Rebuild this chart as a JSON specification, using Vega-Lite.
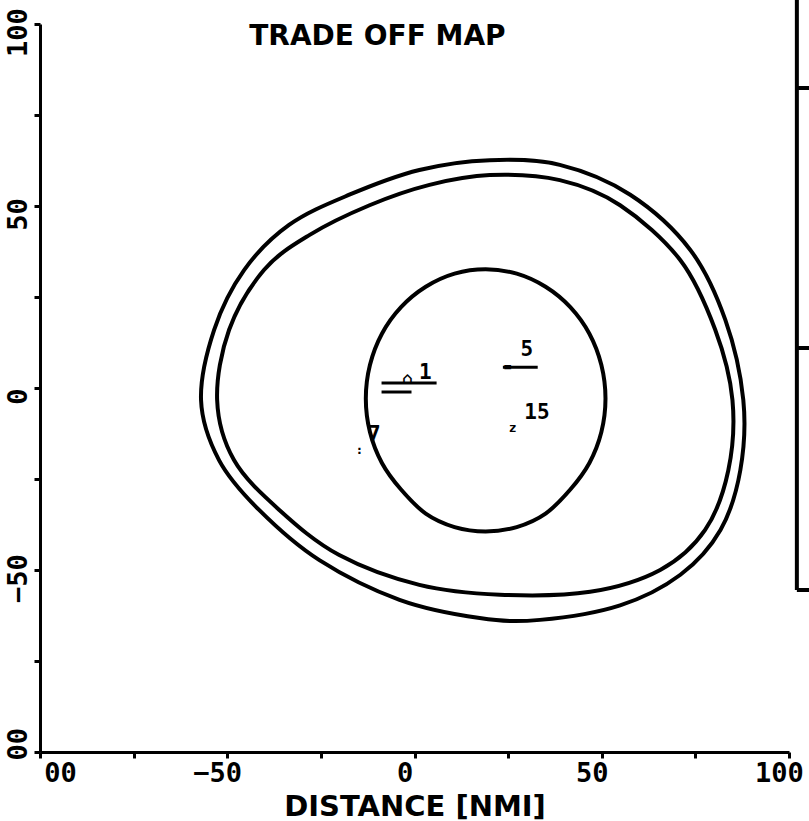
{
  "$schema": "https://vega.github.io/schema/vega-lite/v6.json",
  "autosize": {"type": "none"},
  "padding": {"left": 40, "top": 24, "right": 20, "bottom": 69},
  "width": 749,
  "height": 728,
  "background": "white",
  "config": {
    "view": {"stroke": null},
    "axis": {
      "grid": false,
      "domainColor": "black",
      "domainWidth": 3,
      "tickColor": "black",
      "tickWidth": 3,
      "tickSize": 6,
      "labelColor": "black",
      "labelFont": "DejaVu Sans Mono",
      "labelFontWeight": "bold",
      "labelFontSize": 27,
      "labelFlush": false,
      "labelOverlap": false,
      "titleColor": "black",
      "titleFont": "DejaVu Sans",
      "titleFontWeight": "bold",
      "titleFontSize": 29
    }
  },
  "datasets": {
    "curves": [
      {"curve": "inner", "i": 0, "x": 51, "y": -2.9},
      {"curve": "inner", "i": 1, "x": 49.9, "y": 6.3},
      {"curve": "inner", "i": 2, "x": 46.7, "y": 14.9},
      {"curve": "inner", "i": 3, "x": 41.6, "y": 22.2},
      {"curve": "inner", "i": 4, "x": 35, "y": 27.8},
      {"curve": "inner", "i": 5, "x": 27.3, "y": 31.4},
      {"curve": "inner", "i": 6, "x": 19, "y": 32.6},
      {"curve": "inner", "i": 7, "x": 10.7, "y": 31.4},
      {"curve": "inner", "i": 8, "x": 3, "y": 27.8},
      {"curve": "inner", "i": 9, "x": -3.6, "y": 22.2},
      {"curve": "inner", "i": 10, "x": -8.7, "y": 14.9},
      {"curve": "inner", "i": 11, "x": -11.9, "y": 6.3},
      {"curve": "inner", "i": 12, "x": -13, "y": -2.9},
      {"curve": "inner", "i": 13, "x": -11.9, "y": -12.1},
      {"curve": "inner", "i": 14, "x": -8.7, "y": -20.6},
      {"curve": "inner", "i": 15, "x": -3.6, "y": -27.9},
      {"curve": "inner", "i": 16, "x": 3, "y": -34.5},
      {"curve": "inner", "i": 17, "x": 10.7, "y": -38.2},
      {"curve": "inner", "i": 18, "x": 19, "y": -39.4},
      {"curve": "inner", "i": 19, "x": 27.3, "y": -38.2},
      {"curve": "inner", "i": 20, "x": 35, "y": -34.5},
      {"curve": "inner", "i": 21, "x": 41.6, "y": -27.9},
      {"curve": "inner", "i": 22, "x": 46.7, "y": -20.6},
      {"curve": "inner", "i": 23, "x": 49.9, "y": -12.1},

      {"curve": "middle", "i": 0, "x": -52.7, "y": -3.3},
      {"curve": "middle", "i": 1, "x": -49.5, "y": 16.0},
      {"curve": "middle", "i": 2, "x": -40.2, "y": 32.4},
      {"curve": "middle", "i": 3, "x": -28.1, "y": 42.0},
      {"curve": "middle", "i": 4, "x": -12.0, "y": 50.2},
      {"curve": "middle", "i": 5, "x": 4.0, "y": 55.8},
      {"curve": "middle", "i": 6, "x": 20.1, "y": 58.5},
      {"curve": "middle", "i": 7, "x": 38.8, "y": 57.1},
      {"curve": "middle", "i": 8, "x": 54.9, "y": 50.2},
      {"curve": "middle", "i": 9, "x": 71.0, "y": 35.1},
      {"curve": "middle", "i": 10, "x": 80.3, "y": 16.0},
      {"curve": "middle", "i": 11, "x": 84.9, "y": -3.3},
      {"curve": "middle", "i": 12, "x": 83.8, "y": -22.6},
      {"curve": "middle", "i": 13, "x": 77.6, "y": -39.0},
      {"curve": "middle", "i": 14, "x": 65.6, "y": -50.0},
      {"curve": "middle", "i": 15, "x": 46.9, "y": -56.0},
      {"curve": "middle", "i": 16, "x": 22.8, "y": -56.8},
      {"curve": "middle", "i": 17, "x": 1.3, "y": -54.1},
      {"curve": "middle", "i": 18, "x": -20.1, "y": -45.9},
      {"curve": "middle", "i": 19, "x": -36.1, "y": -33.5},
      {"curve": "middle", "i": 20, "x": -48.2, "y": -19.8},

      {"curve": "outer", "i": 0, "x": -57.0, "y": -3.3},
      {"curve": "outer", "i": 1, "x": -53.5, "y": 16.0},
      {"curve": "outer", "i": 2, "x": -45.5, "y": 32.4},
      {"curve": "outer", "i": 3, "x": -33.5, "y": 44.8},
      {"curve": "outer", "i": 4, "x": -17.4, "y": 53.1},
      {"curve": "outer", "i": 5, "x": 1.3, "y": 59.9},
      {"curve": "outer", "i": 6, "x": 20.1, "y": 62.6},
      {"curve": "outer", "i": 7, "x": 38.8, "y": 61.3},
      {"curve": "outer", "i": 8, "x": 57.6, "y": 53.1},
      {"curve": "outer", "i": 9, "x": 73.6, "y": 38.0},
      {"curve": "outer", "i": 10, "x": 83.0, "y": 18.7},
      {"curve": "outer", "i": 11, "x": 87.8, "y": -3.3},
      {"curve": "outer", "i": 12, "x": 87.0, "y": -22.6},
      {"curve": "outer", "i": 13, "x": 81.7, "y": -39.0},
      {"curve": "outer", "i": 14, "x": 71.0, "y": -51.3},
      {"curve": "outer", "i": 15, "x": 54.9, "y": -59.7},
      {"curve": "outer", "i": 16, "x": 33.5, "y": -63.7},
      {"curve": "outer", "i": 17, "x": 17.4, "y": -63.2},
      {"curve": "outer", "i": 18, "x": -4.0, "y": -58.2},
      {"curve": "outer", "i": 19, "x": -25.4, "y": -47.3},
      {"curve": "outer", "i": 20, "x": -41.5, "y": -33.5},
      {"curve": "outer", "i": 21, "x": -52.2, "y": -19.8}
    ],
    "segments": [
      {"x": -8.8, "x2": 5.9, "y": 1.4},
      {"x": -8.8, "x2": -0.8, "y": -1.1},
      {"x": 23.6, "x2": 32.9, "y": 5.7}
    ],
    "labels": [
      {"x": 2.9, "y": 4.1, "text": "1"},
      {"x": 30.0, "y": 10.5, "text": "5"},
      {"x": 32.7, "y": -6.8, "text": "15"},
      {"x": -10.7, "y": -12.9, "text": "7"}
    ],
    "bigGlyphs": [
      {"x": -1.9, "y": 2.4, "text": "⌂"}
    ],
    "glyphs": [
      {"x": 24.9, "y": 5.7, "text": "="},
      {"x": 26.2, "y": -11.0, "text": "z"},
      {"x": -14.7, "y": -17.0, "text": ":"}
    ],
    "titleText": [
      {"x": -9.9, "y": 96.4, "text": "TRADE OFF MAP"}
    ],
    "panelV": [
      {"x": 102.1, "y": 106.6, "y2": -55.5}
    ],
    "panelH": [
      {"x": 102.1, "x2": 115, "y": 82.4},
      {"x": 102.1, "x2": 115, "y": 11.0},
      {"x": 102.1, "x2": 115, "y": -55.5}
    ]
  },
  "layer": [
    {
      "data": {"name": "curves"},
      "mark": {"type": "line", "interpolate": "cardinal-closed", "color": "black", "strokeWidth": 4},
      "encoding": {
        "x": {
          "field": "x", "type": "quantitative",
          "scale": {"domain": [-100, 100], "nice": false, "zero": false},
          "axis": {
            "values": [-100, -75, -50, -25, 0, 25, 50, 75, 100],
            "labelExpr": "datum.value == -100 ? '00' : (datum.value % 50 == 0 ? datum.label : '')",
            "labelOffset": {"condition": {"test": "datum.value == -100", "value": 20}, "value": -10},
            "title": "DISTANCE [NMI]",
            "titlePadding": 6,
            "labelPadding": 2
          }
        },
        "y": {
          "field": "y", "type": "quantitative",
          "scale": {"domain": [-100, 100], "nice": false, "zero": false},
          "axis": {
            "values": [-100, -75, -50, -25, 0, 25, 50, 75, 100],
            "labelExpr": "datum.value == -100 ? '00' : (datum.value % 50 == 0 ? datum.label : '')",
            "labelAngle": -90,
            "labelAlign": {"condition": {"test": "datum.value == -100", "value": "left"}, "value": "center"},
            "labelBaseline": "bottom",
            "labelPadding": 2,
            "labelOffset": 8,
            "title": null
          }
        },
        "detail": {"field": "curve"},
        "order": {"field": "i", "type": "quantitative"}
      }
    },
    {
      "data": {"name": "segments"},
      "mark": {"type": "rule", "color": "black", "strokeWidth": 3},
      "encoding": {
        "x": {"field": "x", "type": "quantitative"},
        "x2": {"field": "x2"},
        "y": {"field": "y", "type": "quantitative"}
      }
    },
    {
      "data": {"name": "labels"},
      "mark": {"type": "text", "font": "DejaVu Sans Mono", "fontWeight": "bold", "fontSize": 21, "color": "black"},
      "encoding": {
        "x": {"field": "x", "type": "quantitative"},
        "y": {"field": "y", "type": "quantitative"},
        "text": {"field": "text"}
      }
    },
    {
      "data": {"name": "bigGlyphs"},
      "mark": {"type": "text", "font": "DejaVu Sans Mono", "fontWeight": "bold", "fontSize": 17, "color": "black"},
      "encoding": {
        "x": {"field": "x", "type": "quantitative"},
        "y": {"field": "y", "type": "quantitative"},
        "text": {"field": "text"}
      }
    },
    {
      "data": {"name": "glyphs"},
      "mark": {"type": "text", "font": "DejaVu Sans Mono", "fontWeight": "bold", "fontSize": 13, "color": "black"},
      "encoding": {
        "x": {"field": "x", "type": "quantitative"},
        "y": {"field": "y", "type": "quantitative"},
        "text": {"field": "text"}
      }
    },
    {
      "data": {"name": "titleText"},
      "mark": {"type": "text", "font": "DejaVu Sans", "fontWeight": "bold", "fontSize": 28, "color": "black"},
      "encoding": {
        "x": {"field": "x", "type": "quantitative"},
        "y": {"field": "y", "type": "quantitative"},
        "text": {"field": "text"}
      }
    },
    {
      "data": {"name": "panelV"},
      "mark": {"type": "rule", "color": "black", "strokeWidth": 4},
      "encoding": {
        "x": {"field": "x", "type": "quantitative"},
        "y": {"field": "y", "type": "quantitative"},
        "y2": {"field": "y2"}
      }
    },
    {
      "data": {"name": "panelH"},
      "mark": {"type": "rule", "color": "black", "strokeWidth": 4},
      "encoding": {
        "x": {"field": "x", "type": "quantitative"},
        "x2": {"field": "x2"},
        "y": {"field": "y", "type": "quantitative"}
      }
    }
  ]
}
